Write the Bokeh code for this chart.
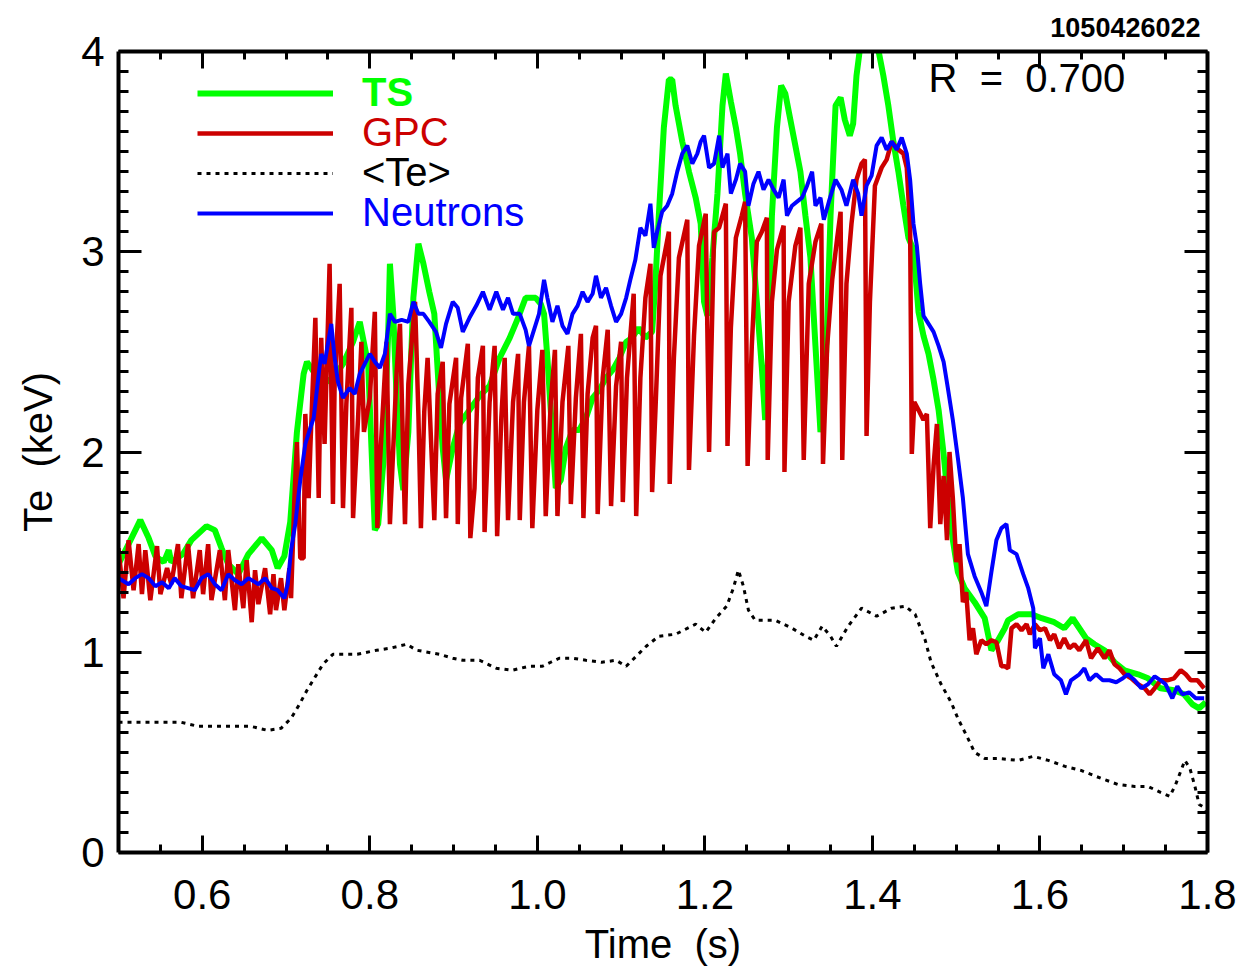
from bokeh.plotting import figure
from bokeh.models import (Range1d, LinearAxis, FixedTicker, PrintfTickFormatter,
                          Legend, LegendItem, Label)
from bokeh.embed import file_html
from bokeh.resources import INLINE

# ---- data -------------------------------------------------------------
ts_t = [0.500, 0.512, 0.526, 0.536, 0.544, 0.554, 0.560, 0.563, 0.577, 0.587,
        0.605, 0.615, 0.623, 0.631, 0.643, 0.655, 0.671, 0.683, 0.690, 0.698,
        0.705, 0.713, 0.721, 0.725, 0.733, 0.741, 0.748, 0.756, 0.768, 0.780,
        0.788, 0.798, 0.802, 0.806, 0.810, 0.816, 0.822, 0.824, 0.828, 0.832,
        0.836, 0.840, 0.846, 0.852, 0.858, 0.864, 0.871, 0.877, 0.883, 0.887,
        0.891, 0.899, 0.907, 0.919, 0.931, 0.943, 0.955, 0.967, 0.977, 0.986,
        0.998, 1.004, 1.008, 1.012, 1.018, 1.022, 1.028, 1.034, 1.042, 1.050,
        1.058, 1.066, 1.074, 1.082, 1.090, 1.098, 1.106, 1.113, 1.121, 1.129,
        1.137, 1.141, 1.145, 1.151, 1.157, 1.161, 1.165, 1.173, 1.181, 1.189,
        1.195, 1.199, 1.203, 1.209, 1.215, 1.221, 1.225, 1.231, 1.237, 1.242,
        1.248, 1.256, 1.262, 1.268, 1.272, 1.276, 1.280, 1.286, 1.291, 1.296,
        1.302, 1.308, 1.314, 1.320, 1.326, 1.332, 1.338, 1.342, 1.346, 1.350,
        1.356, 1.362, 1.367, 1.373, 1.377, 1.381, 1.385, 1.396, 1.407, 1.413,
        1.419, 1.425, 1.431, 1.437, 1.443, 1.449, 1.455, 1.461, 1.467, 1.473,
        1.479, 1.485, 1.490, 1.496, 1.502, 1.510, 1.522, 1.534, 1.542, 1.550,
        1.558, 1.562, 1.574, 1.590, 1.602, 1.617, 1.629, 1.639, 1.647, 1.655,
        1.665, 1.677, 1.689, 1.701, 1.717, 1.729, 1.744, 1.760, 1.772, 1.782,
        1.790, 1.798]
ts_te = [1.44, 1.54, 1.66, 1.57, 1.48, 1.45, 1.51, 1.45, 1.49, 1.56,
         1.63, 1.61, 1.52, 1.44, 1.39, 1.49, 1.57, 1.51, 1.42, 1.48,
         1.65, 2.10, 2.39, 2.45, 2.40, 2.35, 2.35, 2.37, 2.44, 2.55,
         2.65, 2.44, 2.02, 1.61, 1.64, 1.94, 2.60, 2.94, 2.69, 2.27,
         1.94, 1.81, 2.10, 2.77, 3.04, 2.94, 2.80, 2.69, 2.27, 2.02,
         1.86, 2.02, 2.14, 2.21, 2.28, 2.33, 2.47, 2.57, 2.67, 2.77,
         2.77, 2.74, 2.69, 2.47, 2.08, 1.82, 1.86, 2.02, 2.11, 2.11,
         2.17, 2.27, 2.31, 2.37, 2.41, 2.47, 2.55, 2.57, 2.62, 2.57,
         2.60, 2.85, 3.18, 3.62, 3.86, 3.86, 3.73, 3.55, 3.40, 3.27,
         3.14, 2.75, 2.68, 2.97, 3.29, 3.73, 3.89, 3.75, 3.62, 3.49,
         3.29, 3.07, 2.75, 2.42, 2.16, 2.53, 3.18, 3.62, 3.83, 3.79,
         3.66, 3.53, 3.40, 3.18, 2.97, 2.53, 2.10, 2.21, 2.64, 3.18,
         3.73, 3.77, 3.66, 3.58, 3.64, 3.88, 4.01, 4.30, 4.01, 3.88,
         3.73, 3.55, 3.40, 3.23, 3.07, 3.01, 2.70, 2.58, 2.49, 2.36,
         2.21, 1.99, 1.77, 1.56, 1.40, 1.32, 1.25, 1.17, 1.01, 1.06,
         1.12, 1.16, 1.19, 1.19, 1.17, 1.15, 1.12, 1.17, 1.12, 1.07,
         1.04, 1.01, 0.95, 0.91, 0.89, 0.87, 0.82, 0.81, 0.79, 0.74,
         0.72, 0.75]

gpc_t = [0.500, 0.506, 0.512, 0.518, 0.524, 0.528, 0.532, 0.538, 0.546, 0.550,
         0.558, 0.563, 0.571, 0.575, 0.583, 0.589, 0.597, 0.601, 0.607, 0.611,
         0.621, 0.627, 0.631, 0.639, 0.643, 0.649, 0.653, 0.659, 0.663, 0.667,
         0.675, 0.681, 0.685, 0.688, 0.694, 0.698, 0.704, 0.706, 0.710, 0.713,
         0.717, 0.721, 0.723, 0.727, 0.729, 0.735, 0.739, 0.742, 0.746, 0.752,
         0.756, 0.758, 0.764, 0.768, 0.772, 0.778, 0.780, 0.786, 0.790, 0.793,
         0.800, 0.806, 0.809, 0.812, 0.820, 0.824, 0.832, 0.836, 0.842, 0.846,
         0.850, 0.854, 0.858, 0.861, 0.865, 0.869, 0.877, 0.881, 0.887, 0.891,
         0.895, 0.903, 0.905, 0.909, 0.917, 0.920, 0.925, 0.929, 0.935, 0.937,
         0.943, 0.949, 0.952, 0.957, 0.961, 0.965, 0.971, 0.977, 0.979, 0.984,
         0.990, 0.994, 1.000, 1.006, 1.010, 1.016, 1.021, 1.024, 1.030, 1.037,
         1.040, 1.046, 1.052, 1.055, 1.060, 1.066, 1.070, 1.072, 1.078, 1.084,
         1.088, 1.094, 1.100, 1.102, 1.107, 1.115, 1.118, 1.123, 1.129, 1.135,
         1.137, 1.141, 1.147, 1.157, 1.158, 1.163, 1.169, 1.179, 1.181, 1.187,
         1.193, 1.201, 1.205, 1.211, 1.217, 1.225, 1.227, 1.231, 1.237, 1.244,
         1.248, 1.251, 1.256, 1.262, 1.268, 1.274, 1.275, 1.280, 1.286, 1.294,
         1.295, 1.300, 1.308, 1.314, 1.318, 1.324, 1.332, 1.339, 1.341, 1.346,
         1.352, 1.358, 1.362, 1.364, 1.369, 1.375, 1.381, 1.387, 1.391, 1.393,
         1.397, 1.403, 1.411, 1.417, 1.423, 1.431, 1.437, 1.441, 1.445, 1.447,
         1.450, 1.455, 1.461, 1.465, 1.469, 1.473, 1.477, 1.481, 1.485, 1.489,
         1.492, 1.496, 1.500, 1.504, 1.508, 1.512, 1.516, 1.520, 1.524, 1.530,
         1.536, 1.542, 1.548, 1.554, 1.558, 1.562, 1.566, 1.572, 1.578, 1.584,
         1.588, 1.594, 1.600, 1.606, 1.612, 1.617, 1.623, 1.629, 1.635, 1.641,
         1.647, 1.655, 1.661, 1.669, 1.677, 1.683, 1.689, 1.695, 1.701, 1.709,
         1.717, 1.725, 1.731, 1.737, 1.744, 1.752, 1.760, 1.768, 1.774, 1.780,
         1.788, 1.796]
gpc_te = [1.52, 1.27, 1.56, 1.31, 1.54, 1.29, 1.51, 1.26, 1.53, 1.29,
          1.42, 1.34, 1.54, 1.27, 1.54, 1.27, 1.51, 1.29, 1.54, 1.26,
          1.51, 1.26, 1.51, 1.21, 1.44, 1.22, 1.46, 1.15, 1.41, 1.24,
          1.42, 1.19, 1.39, 1.21, 1.37, 1.21, 1.42, 1.27, 1.77, 2.05,
          1.47, 1.47, 2.19, 1.77, 2.02, 2.67, 1.77, 2.57, 2.04, 2.94,
          1.74, 2.34, 2.84, 1.72, 2.24, 2.72, 1.67, 2.17, 2.55, 2.10,
          2.27, 2.70, 1.62, 1.94, 2.55, 1.64, 2.40, 2.64, 1.64, 2.34,
          2.55, 2.75, 2.19, 1.62, 2.20, 2.47, 1.66, 2.29, 2.45, 1.67,
          2.24, 2.47, 1.64, 2.27, 2.54, 1.57, 1.82, 2.37, 2.53, 1.60,
          2.25, 2.53, 1.58, 2.17, 2.47, 1.66, 2.25, 2.49, 1.66, 2.25,
          2.53, 1.62, 2.21, 2.51, 1.68, 2.25, 2.51, 1.68, 2.25, 2.53,
          1.74, 2.27, 2.59, 1.67, 2.29, 2.57, 2.63, 1.69, 2.37, 2.61,
          1.73, 2.33, 2.55, 1.75, 2.37, 2.79, 1.68, 2.37, 2.77, 2.94,
          1.80, 2.21, 2.88, 3.10, 1.84, 2.47, 2.97, 3.16, 1.91, 2.58,
          3.03, 3.19, 2.00, 3.10, 3.12, 3.24, 2.03, 2.62, 3.07, 3.18,
          3.25, 1.93, 2.53, 3.05, 3.10, 3.17, 1.96, 2.75, 3.01, 3.13,
          1.90, 2.75, 3.03, 3.12, 1.96, 2.84, 3.05, 3.14, 1.94, 2.53,
          2.86, 3.07, 3.20, 1.96, 2.84, 3.14, 3.36, 3.44, 3.46, 2.08,
          2.75, 3.33, 3.42, 3.46, 3.55, 3.51, 3.49, 3.42, 3.12, 1.99,
          2.25, 2.21, 2.16, 2.19, 1.62, 1.93, 2.14, 1.64, 1.88, 1.56,
          2.00, 1.77, 1.45, 1.54, 1.25, 1.30, 1.06, 1.12, 0.99, 1.06,
          1.04, 1.06, 1.05, 0.93, 0.93, 0.92, 1.12, 1.14, 1.11, 1.14,
          1.09, 1.14, 1.11, 1.12, 1.06, 1.09, 1.02, 1.07, 1.02, 1.04,
          1.01, 1.06, 0.97, 1.02, 0.97, 1.01, 0.94, 0.92, 0.89, 0.87,
          0.84, 0.82, 0.79, 0.82, 0.86, 0.86, 0.87, 0.91, 0.89, 0.86,
          0.86, 0.82]

avg_t = [0.500, 0.540, 0.575, 0.595, 0.658, 0.678, 0.694, 0.706, 0.716, 0.725,
         0.744, 0.756, 0.785, 0.808, 0.824, 0.844, 0.856, 0.883, 0.899, 0.911,
         0.931, 0.951, 0.970, 0.990, 1.006, 1.016, 1.026, 1.042, 1.058, 1.077,
         1.094, 1.106, 1.118, 1.130, 1.145, 1.165, 1.189, 1.201, 1.213, 1.226,
         1.234, 1.240, 1.246, 1.252, 1.260, 1.284, 1.304, 1.320, 1.330, 1.340,
         1.350, 1.357, 1.371, 1.387, 1.405, 1.423, 1.439, 1.451, 1.463, 1.470,
         1.482, 1.494, 1.502, 1.514, 1.522, 1.534, 1.550, 1.574, 1.592, 1.610,
         1.630, 1.649, 1.673, 1.693, 1.713, 1.729, 1.744, 1.755, 1.762, 1.773,
         1.779, 1.785, 1.790, 1.794, 1.798]
avg_te = [0.65, 0.65, 0.65, 0.63, 0.63, 0.61, 0.62, 0.67, 0.74, 0.81,
          0.94, 0.99, 0.99, 1.01, 1.02, 1.04, 1.01, 0.99, 0.97, 0.96,
          0.96, 0.92, 0.91, 0.93, 0.93, 0.95, 0.97, 0.97, 0.96, 0.95,
          0.96, 0.93, 0.98, 1.03, 1.08, 1.09, 1.14, 1.10, 1.17, 1.23,
          1.32, 1.41, 1.33, 1.21, 1.16, 1.16, 1.12, 1.08, 1.06, 1.13,
          1.08, 1.03, 1.13, 1.22, 1.18, 1.22, 1.23, 1.19, 1.06, 0.95,
          0.84, 0.75, 0.67, 0.57, 0.50, 0.47, 0.47, 0.46, 0.48, 0.46,
          0.43, 0.41, 0.37, 0.34, 0.33, 0.33, 0.30, 0.28, 0.34, 0.46,
          0.42, 0.33, 0.24, 0.23, 0.20]

neu_t = [0.500, 0.512, 0.520, 0.528, 0.536, 0.544, 0.552, 0.560, 0.567, 0.575,
         0.583, 0.591, 0.599, 0.607, 0.615, 0.623, 0.631, 0.639, 0.647, 0.655,
         0.667, 0.675, 0.683, 0.690, 0.698, 0.702, 0.706, 0.711, 0.717, 0.723,
         0.729, 0.733, 0.739, 0.742, 0.746, 0.750, 0.754, 0.758, 0.762, 0.768,
         0.776, 0.782, 0.788, 0.794, 0.800, 0.806, 0.812, 0.818, 0.824, 0.830,
         0.838, 0.846, 0.852, 0.858, 0.864, 0.871, 0.879, 0.885, 0.891, 0.899,
         0.905, 0.911, 0.919, 0.927, 0.935, 0.943, 0.951, 0.959, 0.965, 0.971,
         0.979, 0.986, 0.990, 0.996, 1.002, 1.008, 1.012, 1.018, 1.024, 1.030,
         1.036, 1.042, 1.048, 1.054, 1.060, 1.066, 1.070, 1.076, 1.082, 1.088,
         1.094, 1.100, 1.106, 1.111, 1.117, 1.123, 1.129, 1.135, 1.139, 1.143,
         1.149, 1.155, 1.161, 1.167, 1.173, 1.179, 1.185, 1.191, 1.195, 1.199,
         1.205, 1.211, 1.217, 1.221, 1.227, 1.231, 1.237, 1.242, 1.248, 1.252,
         1.258, 1.264, 1.270, 1.276, 1.282, 1.288, 1.294, 1.298, 1.304, 1.310,
         1.316, 1.322, 1.328, 1.332, 1.338, 1.342, 1.348, 1.356, 1.363, 1.369,
         1.377, 1.383, 1.387, 1.393, 1.399, 1.405, 1.411, 1.417, 1.423, 1.429,
         1.435, 1.441, 1.445, 1.449, 1.453, 1.457, 1.461, 1.467, 1.473, 1.479,
         1.485, 1.490, 1.496, 1.502, 1.508, 1.514, 1.522, 1.530, 1.536, 1.542,
         1.548, 1.554, 1.560, 1.564, 1.572, 1.580, 1.586, 1.592, 1.594, 1.600,
         1.604, 1.610, 1.617, 1.625, 1.631, 1.637, 1.647, 1.653, 1.659, 1.667,
         1.675, 1.683, 1.691, 1.699, 1.705, 1.713, 1.721, 1.729, 1.737, 1.744,
         1.750, 1.758, 1.764, 1.770, 1.778, 1.786, 1.796]
neu_te = [1.37, 1.34, 1.37, 1.39, 1.37, 1.33, 1.35, 1.32, 1.37, 1.33,
          1.32, 1.31, 1.37, 1.39, 1.34, 1.31, 1.39, 1.36, 1.34, 1.37,
          1.34, 1.37, 1.32, 1.31, 1.27, 1.34, 1.51, 1.64, 1.86, 2.04,
          2.12, 2.17, 2.39, 2.49, 2.44, 2.54, 2.64, 2.47, 2.35, 2.27,
          2.32, 2.29, 2.39, 2.44, 2.49, 2.45, 2.42, 2.49, 2.69, 2.65,
          2.66, 2.65, 2.75, 2.69, 2.69, 2.65, 2.60, 2.52, 2.64, 2.75,
          2.72, 2.60, 2.67, 2.73, 2.80, 2.71, 2.80, 2.71, 2.77, 2.69,
          2.69, 2.61, 2.53, 2.61, 2.69, 2.86, 2.77, 2.65, 2.73, 2.63,
          2.59, 2.69, 2.73, 2.80, 2.75, 2.79, 2.88, 2.77, 2.82, 2.73,
          2.65, 2.69, 2.77, 2.86, 2.96, 3.12, 3.08, 3.24, 3.02, 3.10,
          3.20, 3.23, 3.29, 3.40, 3.49, 3.53, 3.44, 3.49, 3.55, 3.58,
          3.42, 3.44, 3.58, 3.42, 3.49, 3.29, 3.36, 3.44, 3.40, 3.23,
          3.34, 3.40, 3.31, 3.36, 3.31, 3.27, 3.36, 3.18, 3.23, 3.25,
          3.27, 3.33, 3.40, 3.23, 3.27, 3.16, 3.25, 3.36, 3.31, 3.23,
          3.36, 3.29, 3.18, 3.33, 3.38, 3.53, 3.57, 3.51, 3.55, 3.51,
          3.57, 3.49, 3.36, 3.14, 3.03, 2.84, 2.68, 2.64, 2.60, 2.53,
          2.45, 2.32, 2.16, 1.97, 1.77, 1.49, 1.38, 1.30, 1.23, 1.40,
          1.56, 1.62, 1.64, 1.51, 1.49, 1.39, 1.32, 1.22, 1.02, 1.07,
          0.92, 0.99, 0.89, 0.86, 0.79, 0.86, 0.89, 0.92, 0.86, 0.89,
          0.86, 0.86, 0.85, 0.87, 0.89, 0.86, 0.82, 0.84, 0.88, 0.86,
          0.84, 0.77, 0.83, 0.79, 0.80, 0.77, 0.77]

x_major = [0.6, 0.8, 1.0, 1.2, 1.4, 1.6, 1.8]
x_minor = [0.55, 0.65, 0.7, 0.75, 0.85, 0.9, 0.95, 1.05, 1.1, 1.15,
           1.25, 1.3, 1.35, 1.45, 1.5, 1.55, 1.65, 1.7, 1.75]
y_major = [0, 1, 2, 3, 4]
y_minor = [round(m + k / 10, 1) for m in range(4) for k in range(1, 10)]

shot = "1050426022"
radius_text = "R\u00a0\u00a0=\u00a0\u00a00.700"

# ---- figure -----------------------------------------------------------
FONT = "Liberation Sans"
GREEN, RED, BLUE = "#00ff00", "#cc0000", "#0000ff"

p = figure(width=1240, height=968, output_backend="svg", toolbar_location=None,
           x_range=Range1d(0.5, 1.8), y_range=Range1d(0, 4),
           min_border_left=118, min_border_right=33,
           min_border_top=50, min_border_bottom=116)
p.outline_line_color = None
p.xgrid.visible = False
p.ygrid.visible = False
p.background_fill_color = "white"
p.border_fill_color = "white"

# shot number, top right above the frame
p.title.text = shot
p.title.align = "right"
p.title.text_font = FONT
p.title.text_font_size = "27px"
p.title.text_font_style = "bold"
p.title.text_color = "black"
p.title.standoff = 30
p.title.offset = 7

xt = FixedTicker(ticks=x_major, minor_ticks=x_minor)
yt = FixedTicker(ticks=y_major, minor_ticks=y_minor)


def style_axis(ax, ticker, major_len, minor_len, show_labels):
    ax.ticker = ticker
    ax.axis_line_width = 4
    ax.axis_line_color = "black"
    ax.major_tick_in = major_len
    ax.major_tick_out = 0
    ax.minor_tick_in = minor_len
    ax.minor_tick_out = 0
    ax.major_tick_line_width = 3
    ax.minor_tick_line_width = 3
    ax.major_tick_line_color = "black"
    ax.minor_tick_line_color = "black"
    ax.major_label_text_font = FONT
    ax.axis_label_text_font = FONT
    ax.axis_label_text_font_style = "normal"
    ax.axis_label_text_color = "black"
    if show_labels:
        ax.major_label_text_color = "black"
        ax.major_label_text_font_size = "42px"
        ax.axis_label_text_font_size = "40px"
    else:
        # mirror axis: ticks only
        ax.major_label_text_color = None
        ax.major_label_text_font_size = "1px"
        ax.major_label_standoff = 0
        ax.axis_label_standoff = 0


xa = p.xaxis[0]
style_axis(xa, xt, 17, 8, True)
xa.formatter = PrintfTickFormatter(format="%.1f")
xa.axis_label = "Time\u00a0\u00a0(s)"
xa.major_label_standoff = 27
xa.axis_label_standoff = 10

ya = p.yaxis[0]
style_axis(ya, yt, 23, 10, True)
ya.formatter = PrintfTickFormatter(format="%d")
ya.axis_label = "Te\u00a0\u00a0(keV)"
ya.major_label_standoff = 14
ya.axis_label_standoff = 18

top = LinearAxis()
style_axis(top, xt, 17, 8, False)
p.add_layout(top, "above")
right = LinearAxis()
style_axis(right, yt, 23, 10, False)
p.add_layout(right, "right")

# ---- traces -----------------------------------------------------------
r_ts = p.line(ts_t, ts_te, line_color=GREEN, line_width=6)
r_gpc = p.line(gpc_t, gpc_te, line_color=RED, line_width=4.5)
r_avg = p.line(avg_t, avg_te, line_color="black", line_width=3, line_dash="4 5")
r_neu = p.line(neu_t, neu_te, line_color=BLUE, line_width=4)

# one legend per entry so every label carries its own colour
entries = [("TS", r_ts, GREEN, "bold", 737),
           ("GPC", r_gpc, RED, "normal", 697),
           ("<Te>", r_avg, "black", "normal", 657),
           ("Neutrons", r_neu, BLUE, "normal", 617)]
for name, rend, col, style, ypos in entries:
    leg = Legend(items=[LegendItem(label=name, renderers=[rend])],
                 location=(79, ypos), glyph_width=136, glyph_height=40,
                 label_height=40, label_standoff=29, padding=0, margin=0,
                 spacing=0, border_line_color=None, background_fill_alpha=0,
                 label_text_font=FONT, label_text_font_size="40px",
                 label_text_color=col, label_text_font_style=style)
    p.add_layout(leg)

p.add_layout(Label(x=1.467, y=3.87, text=radius_text, text_font=FONT,
                   text_font_size="40px", text_color="black",
                   text_baseline="middle", text_align="left"))

open("out.html", "w").write(file_html(p, INLINE))
